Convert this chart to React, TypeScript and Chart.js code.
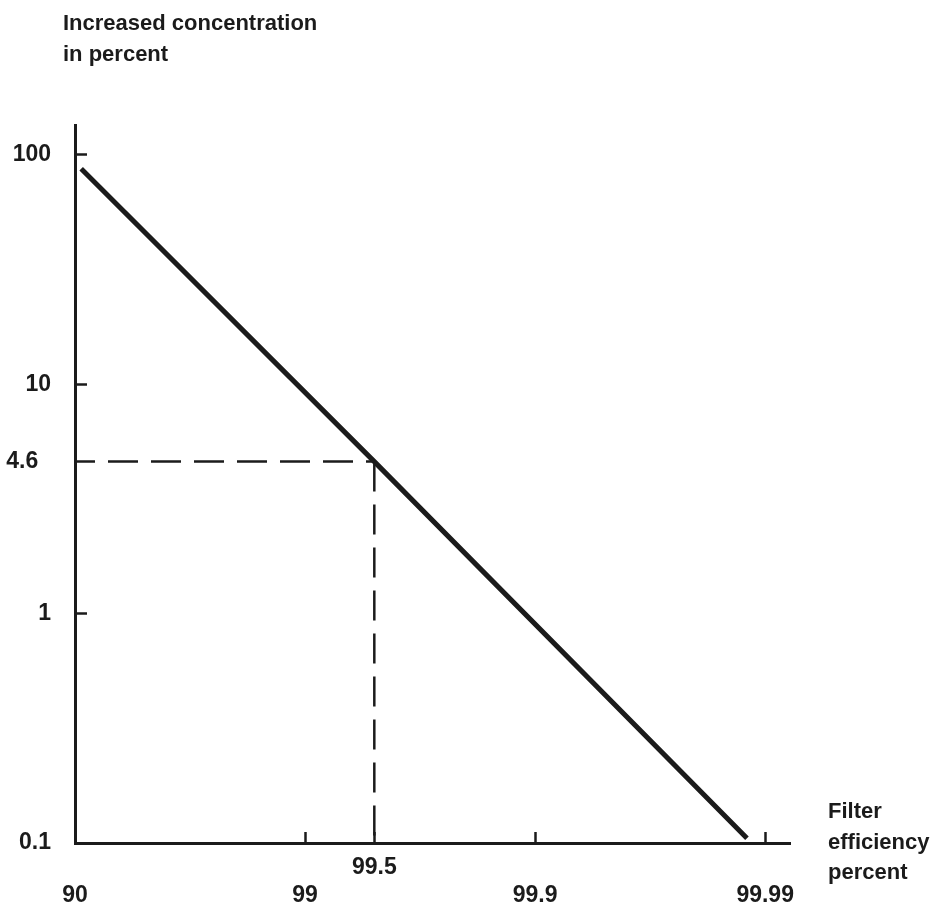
import React, { useEffect, useRef } from "react";
import { Chart, registerables } from "chart.js";

Chart.register(...registerables);

// ---- data ----
const efficiency = [90.6, 99.5, 99.988];
const concentration = [87, 4.6, 0.105];

const markEfficiency = 99.5;
const markConcentration = 4.6;

const xAxisStartEff = 90;
const xAxisEndEff = 99.9922;
const yAxisMin = 0.1;
const yAxisMax = 135;

const xTickValues = [90, 99, 99.5, 99.9, 99.99];
const xTickLabels = ["90", "99", "99.5", "99.9", "99.99"];
const xUpperRowTicks = ["99.5"];

const yTickValues = [0.1, 1, 4.6, 10, 100];
const yTickLabels = ["0.1", "1", "4.6  ", "10", "100"];
const yNoMarkTicks = [0.1, 4.6];

const yTitleLines = ["Increased concentration", "in percent"];
const xTitleLines = ["Filter", "efficiency", "percent"];

// efficiency scale: equal spacing per decade of penetration (100 - efficiency)
const toX = (eff: number) => -Math.log10(100 - eff);

const INK = "#1b1b1b";
const FONT = "'Liberation Sans', Arial, Helvetica, sans-serif";

export default function App() {
  const canvasRef = useRef<HTMLCanvasElement | null>(null);

  useEffect(() => {
    const canvas = canvasRef.current;
    if (!canvas) return;

    const mainLine = efficiency.map((e, i) => ({ x: toX(e), y: concentration[i] }));
    const hDash = [
      { x: toX(xAxisStartEff), y: markConcentration },
      { x: toX(markEfficiency), y: markConcentration },
    ];
    const vDash = [
      { x: toX(markEfficiency), y: markConcentration },
      { x: toX(markEfficiency), y: yAxisMin },
    ];

    const chart = new Chart(canvas, {
      type: "line",
      data: {
        datasets: [
          {
            data: hDash,
            borderColor: INK,
            borderWidth: 2.5,
            borderDash: [30, 13],
            borderDashOffset: 10,
            pointRadius: 0,
            fill: false,
          },
          {
            data: vDash,
            borderColor: INK,
            borderWidth: 2.5,
            borderDash: [30, 13],
            pointRadius: 0,
            fill: false,
          },
          {
            data: mainLine,
            borderColor: INK,
            borderWidth: 5,
            pointRadius: 0,
            fill: false,
            tension: 0,
          },
        ],
      },
      options: {
        responsive: false,
        animation: false,
        parsing: false as any,
        layout: { padding: { top: 125, right: 144, left: 0, bottom: 0 } },
        plugins: {
          legend: { display: false },
          tooltip: { enabled: false },
          title: { display: false },
        },
        scales: {
          x: {
            type: "linear",
            position: "bottom",
            min: toX(xAxisStartEff),
            max: toX(xAxisEndEff),
            bounds: "data",
            afterBuildTicks: (scale: any) => {
              scale.ticks = xTickValues.map((v) => ({ value: toX(v) }));
            },
            afterFit: (scale: any) => {
              scale.height = 62;
            },
            ticks: {
              autoSkip: false,
              maxRotation: 0,
              minRotation: 0,
              padding: 22,
              color: INK,
              font: { family: FONT, size: 23, weight: "bold", lineHeight: "28px" } as any,
              callback: (_v: any, index: number) => {
                const lbl = xTickLabels[index];
                return xUpperRowTicks.includes(lbl) ? [lbl, ""] : ["", lbl];
              },
            },
            grid: {
              display: true,
              drawOnChartArea: false,
              drawTicks: true,
              tickLength: -11,
              tickWidth: 2.5,
              tickColor: (ctx: any) =>
                ctx.index === 0 ? "rgba(0,0,0,0)" : INK,
            },
            border: { display: true, color: INK, width: 3 },
          },
          y: {
            type: "logarithmic",
            position: "left",
            min: yAxisMin,
            max: yAxisMax,
            bounds: "data",
            afterBuildTicks: (scale: any) => {
              scale.ticks = yTickValues.map((v) => ({ value: v }));
            },
            afterFit: (scale: any) => {
              scale.width = 75;
            },
            ticks: {
              autoSkip: false,
              padding: 36,
              color: INK,
              font: { family: FONT, size: 23, weight: "bold" } as any,
              callback: (value: any) => {
                const i = yTickValues.findIndex((t) => Math.abs(t - Number(value)) < 1e-9);
                return i >= 0 ? yTickLabels[i] : "";
              },
            },
            grid: {
              display: true,
              drawOnChartArea: false,
              drawTicks: true,
              tickLength: -12,
              tickWidth: 2.5,
              tickColor: (ctx: any) =>
                ctx.tick && yNoMarkTicks.some((t) => Math.abs(t - ctx.tick.value) < 1e-9)
                  ? "rgba(0,0,0,0)"
                  : INK,
            },
            border: { display: true, color: INK, width: 3 },
          },
        },
      } as any,
    });

    return () => {
      chart.destroy();
    };
  }, []);

  const textStyle: React.CSSProperties = {
    position: "absolute",
    fontFamily: FONT,
    fontWeight: "bold",
    fontSize: 22,
    color: INK,
    whiteSpace: "nowrap",
    margin: 0,
  };

  return (
    <div
      style={{
        position: "absolute",
        left: 0,
        top: 0,
        width: 934,
        height: 905,
        background: "#ffffff",
        overflow: "hidden",
      }}
    >
      <canvas ref={canvasRef} width={934} height={905} style={{ display: "block" }} />
      <div style={{ ...textStyle, left: 63, top: 7, lineHeight: "31px" }}>
        {yTitleLines.map((l) => (
          <div key={l}>{l}</div>
        ))}
      </div>
      <div style={{ ...textStyle, left: 828, top: 796, lineHeight: "30.5px" }}>
        {xTitleLines.map((l) => (
          <div key={l}>{l}</div>
        ))}
      </div>
    </div>
  );
}
